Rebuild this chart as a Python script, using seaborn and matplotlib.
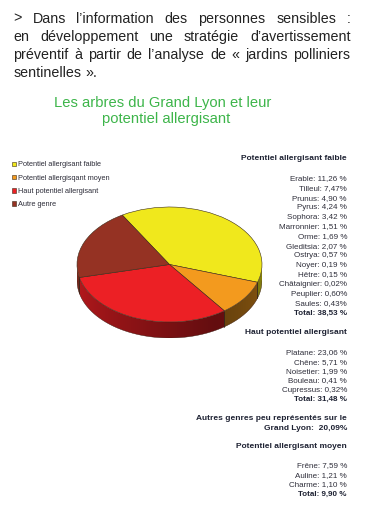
import numpy as np
import matplotlib
matplotlib.use("Agg")
import matplotlib.pyplot as plt
import matplotlib.colors as mcolors
from matplotlib.patches import Polygon
import seaborn as sns

# ---------------- data ----------------
paragraph_lines = [
    "> Dans l’information des personnes sensibles :",
    "en développement une stratégie d’avertissement",
    "préventif à partir de l’analyse de « jardins polliniers",
    "sentinelles ».",
]
title_lines = ["Les arbres du Grand Lyon et leur", "potentiel allergisant"]

categories = ["Potentiel allergisant faible", "Potentiel allergisqant moyen",
              "Haut potentiel allergisant", "Autre genre"]
shares = [38.53, 9.90, 31.48, 20.09]
colors_hex = ["#F0E81C", "#F39A1E", "#EC2025", "#953223"]

faible_items = ["Erable: 11,26 %", "Tilleul: 7,47%", "Prunus: 4,90 %", "Pyrus: 4,24 %",
                "Sophora: 3,42 %", "Marronnier: 1,51 %", "Orme: 1,69 %", "Gleditsia: 2,07 %",
                "Ostrya: 0,57 %", "Noyer: 0,19 %", "Hêtre: 0,15 %", "Châtaignier: 0,02%",
                "Peuplier: 0,60%", "Saules: 0,43%"]
faible_total = "Total: 38,53 %"
haut_items = ["Platane: 23,06 %", "Chêne: 5,71 %", "Noisetier: 1,99 %",
              "Bouleau: 0,41 %", "Cupressus: 0,32%"]
haut_total = "Total: 31,48 %"
autres_lines = ["Autres genres peu représentés sur le", "Grand Lyon:  20,09%"]
moyen_items = ["Frêne: 7,59 %", "Auline: 1,21 %", "Charme: 1,10 %"]
moyen_total = "Total: 9,90 %"

# ---------------- style ----------------
sns.set_theme(style="white")
plt.rcParams["font.family"] = ["Liberation Sans", "DejaVu Sans"]
palette = sns.color_palette(colors_hex)

W, H = 372, 509
fig = plt.figure(figsize=(W / 100, H / 100), dpi=100)
fig.patch.set_facecolor("white")

# overlay axes in pixel coordinates for text
tx = fig.add_axes([0, 0, 1, 1])
tx.set_xlim(0, W)
tx.set_ylim(H, 0)
tx.axis("off")

renderer = fig.canvas.get_renderer()

def text_width(s, fs):
    t = tx.text(0, 0, s, fontsize=fs)
    w = t.get_window_extent(renderer).width
    t.remove()
    return w

# justified paragraph
x_left, x_right = 13.5, 350.5
base0, lh = 22.5, 18.3
pfs = 10.3
space_w = text_width("a a", pfs) - text_width("aa", pfs)
for i, line in enumerate(paragraph_lines):
    y = base0 + lh * i
    words = line.split(" ")
    texts = [tx.text(0, y, w, fontsize=pfs, color="#222222", va="baseline", ha="left")
             for w in words]
    widths = [t.get_window_extent(renderer).width for t in texts]
    if i < len(paragraph_lines) - 1 and len(words) > 1:
        gap = (x_right - x_left - sum(widths)) / (len(words) - 1)
    else:
        gap = space_w
    x = x_left
    for t, w in zip(texts, widths):
        t.set_x(x)
        x += w + gap

# green title
title_pos = [(162.5, 106.5), (166, 123)]
for line, (cx, cy) in zip(title_lines, title_pos):
    tx.text(cx, cy, line, fontsize=10.6, color="#3DB54A", ha="center", va="baseline")

# right column
rx = 347
txt_col = "#2E2E3A"
head_col = "#1E2233"

def block(y0, heading, items, total, step):
    tx.text(rx, y0[0], heading, fontsize=6, fontweight="bold", color=head_col,
            ha="right", va="center")
    y = y0[1]
    for it in items:
        tx.text(rx, y, it, fontsize=5.8, color=txt_col, ha="right", va="center")
        y += step
    tx.text(rx, y, total, fontsize=5.8, fontweight="bold", color=head_col,
            ha="right", va="center")

block((159, 179), "Potentiel allergisant faible", faible_items, faible_total, 9.6)
block((332, 353), "Haut potentiel allergisant", haut_items, haut_total, 9.3)
tx.text(rx, 418, autres_lines[0], fontsize=6, fontweight="bold", color=head_col,
        ha="right", va="center")
tx.text(rx, 428, autres_lines[1], fontsize=6, fontweight="bold", color=head_col,
        ha="right", va="center")
block((447, 466), "Potentiel allergisant moyen", moyen_items, moyen_total, 9.5)

# ---------------- pseudo-3D pie ----------------
px_l, px_r, px_t, px_b = 77, 262, 207, 338
ax = fig.add_axes([px_l / W, 1 - px_b / H, (px_r - px_l) / W, (px_b - px_t) / H])
depth = 16 / 57.5

wedges, _ = ax.pie(shares, colors=palette, startangle=120.7, counterclock=False,
                   radius=1, wedgeprops=dict(edgecolor="#3a2a18", linewidth=0.4, zorder=3))

def shade_of_x(x):
    t = 180 + np.degrees(np.arccos(np.clip(-x, -1, 1)))
    return np.where(t < 300, 0.80 - 0.38 * (t - 180) / 120,
                    0.42 + 0.14 * (t - 300) / 60)

gx = np.linspace(-1, 1, 400)
gshade = shade_of_x(gx)

for w, col in zip(wedges, colors_hex):
    rgb = np.array(mcolors.to_rgb(col))
    a1, a2 = w.theta1, w.theta2
    for k in (-1, 0, 1):
        lo = max(a1, 180 + 360 * k)
        hi = min(a2, 360 + 360 * k)
        if hi <= lo:
            continue
        tt = np.radians(np.linspace(lo, hi, 120))
        xs = np.concatenate([np.cos(tt), np.cos(tt[::-1])])
        ys = np.concatenate([np.sin(tt), np.sin(tt[::-1]) - depth])
        poly = Polygon(np.column_stack([xs, ys]), closed=True, transform=ax.transData,
                       facecolor="none", edgecolor="none")
        ax.add_patch(poly)
        img = np.clip(rgb[None, None, :] * gshade[None, :, None], 0, 1)
        im = ax.imshow(img, extent=(-1, 1, -1 - depth, 1), aspect="auto",
                       interpolation="bilinear", zorder=1)
        im.set_clip_path(poly)
        for ang in (lo, hi):
            if 180 + 360 * k < ang < 360 + 360 * k:
                r = np.radians(ang)
                ax.plot([np.cos(r)] * 2, [np.sin(r), np.sin(r) - depth],
                        color="#2a1a10", lw=0.4, zorder=2)

tt = np.radians(np.linspace(180, 360, 200))
ax.plot(np.cos(tt), np.sin(tt) - depth, color="#3a1a10", lw=0.3, zorder=2)

ax.set_aspect("auto")
ax.set_xlim(-1.0, 1.0)
ax.set_ylim(-1.0 - depth, 1.0)
ax.axis("off")

# legend
fig.legend(handles=wedges, labels=categories, loc="upper left",
           bbox_to_anchor=(12 / W, 1 - 161.5 / H), frameon=False, fontsize=5.3,
           handlelength=0.6, handleheight=0.6, handletextpad=0.2, labelspacing=0.85,
           borderpad=0, borderaxespad=0, labelcolor=txt_col)

fig.savefig("out.png", dpi=100, facecolor="white")
